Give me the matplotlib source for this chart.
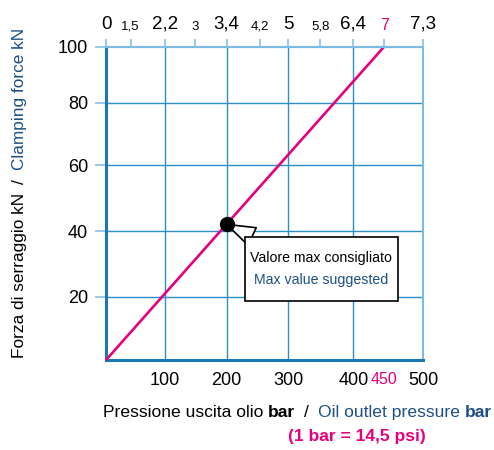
import numpy as np
import matplotlib
matplotlib.use("Agg")
import matplotlib.pyplot as plt
from matplotlib.offsetbox import TextArea, VPacker, AnnotationBbox, DrawingArea
from matplotlib.transforms import IdentityTransform

# clamping force vs oil outlet pressure
oil_pressure = [0, 450]      # bar
clamp_force = [0, 100]       # kN
max_suggested = (200, 42)    # bar, kN

bottom_ticks = [100, 200, 300, 400, 450, 500]
bottom_labels = ["100", "200", "300", "400", "450", "500"]
left_ticks = [20, 40, 60, 80, 100]
left_labels = ["20", "40", "60", "80", "100"]

# air pressure scale on top, placed at the matching oil pressure
air_labels = ["0", "1,5", "2,2", "3", "3,4", "4,2", "5", "5,8", "6,4", "7", "7,3"]
air_as_oil = [0, 42, 100, 149, 200, 254, 300, 349, 400, 450, 500]
air_big = ["0", "2,2", "3,4", "5", "6,4", "7,3"]

# the printed chart does not space its grid evenly
x_marks = [0, 100, 200, 300, 400, 450, 500]
x_spacing = [0, 58.7, 120.7, 182.3, 247.3, 278.3, 317.3]
y_marks = [0, 20, 40, 60, 80, 100]
y_spacing = [0, 63.3, 129, 195, 257.3, 313.5]

MAGENTA = "#e5007e"
NAVY = "#1d4f86"
GRID = "#2d8fc8"
AXIS = "#1a78b4"
LIGHT = "#7dbbe0"

plt.rcParams['font.family'] = ['Liberation Sans', 'DejaVu Sans']


def make_scale(vals, pos):
    vals = np.asarray(vals, float)
    pos = np.asarray(pos, float)
    s0 = (pos[1] - pos[0]) / (vals[1] - vals[0])
    s1 = (pos[-1] - pos[-2]) / (vals[-1] - vals[-2])

    def fwd(v):
        v = np.asarray(v, float)
        out = np.interp(v, vals, pos)
        out = np.where(v < vals[0], pos[0] + (v - vals[0]) * s0, out)
        out = np.where(v > vals[-1], pos[-1] + (v - vals[-1]) * s1, out)
        return out

    def inv(p):
        p = np.asarray(p, float)
        out = np.interp(p, pos, vals)
        out = np.where(p < pos[0], vals[0] + (p - pos[0]) / s0, out)
        out = np.where(p > pos[-1], vals[-1] + (p - pos[-1]) / s1, out)
        return out

    return fwd, inv


fig = plt.figure(figsize=(4.94, 4.5), dpi=100)
ax = fig.add_axes([106 / 494, 1 - 360 / 450, 317.3 / 494, 313.5 / 450])

ax.set_xscale('function', functions=make_scale(x_marks, x_spacing))
ax.set_yscale('function', functions=make_scale(y_marks, y_spacing))
ax.set_xlim(0, 500)
ax.set_ylim(0, 100)

ax.plot(oil_pressure, clamp_force, color=MAGENTA, lw=1.9, clip_on=False,
        solid_capstyle='butt', zorder=3)
ax.plot(*max_suggested, 'o', color='black', ms=10, zorder=6, clip_on=False)

ax.grid(True, color=GRID, lw=1.0)
ax.set_axisbelow(True)

ax.set_xticks(bottom_ticks, bottom_labels)
ax.tick_params(axis='x', direction='inout', length=7, width=1.3, color='none',
               pad=5, labelsize=13)
xt = ax.xaxis.get_major_ticks()
xt[4].tick1line.set_color(MAGENTA)
xt[4].label1.set_color(MAGENTA)
xt[4].label1.set_fontsize(11.5)
xt[4].gridline.set_visible(False)
xt[5].gridline.set_visible(False)

ax.set_yticks(left_ticks, left_labels)
ax.tick_params(axis='y', direction='out', length=8, width=1.1, color=LIGHT,
               pad=5, labelsize=13)
ax.yaxis.get_major_ticks()[4].gridline.set_visible(False)

for side in ['left', 'bottom']:
    ax.spines[side].set_color(AXIS)
    ax.spines[side].set_linewidth(2.2)
for side in ['top', 'right']:
    ax.spines[side].set_color(LIGHT)
    ax.spines[side].set_linewidth(1.5)

# top axis: air pressure
ax2 = ax.twiny()
ax2.set_xscale('function', functions=make_scale(x_marks, x_spacing))
ax2.set_xlim(0, 500)
ax2.set_xticks(air_as_oil, air_labels)
ax2.tick_params(axis='x', direction='out', length=6, width=1.1, color=LIGHT, pad=4)
for tk, lab in zip(ax2.xaxis.get_major_ticks(), air_labels):
    if lab in air_big:
        tk.label2.set_fontsize(13.5)
    elif lab == "7":
        tk.label2.set_fontsize(11.5)
        tk.label2.set_color(MAGENTA)
        tk.tick2line.set_color(MAGENTA)
        tk.tick2line.set_linewidth(1.5)
    else:
        tk.label2.set_fontsize(9.5)
for side in ['left', 'right', 'bottom']:
    ax2.spines[side].set_visible(False)
ax2.spines['top'].set_color(LIGHT)
ax2.spines['top'].set_linewidth(1.5)

# callout
box = VPacker(children=[
    DrawingArea(1, 0),
    TextArea("Valore max consigliato", textprops=dict(color='black', size=10.2)),
    TextArea("Max value suggested", textprops=dict(color=NAVY, size=10.2)),
    DrawingArea(1, 0),
], align='center', pad=1, sep=6)
ab = AnnotationBbox(box, max_suggested, xycoords='data',
                    xybox=(0.678, 0.29), boxcoords='axes fraction',
                    box_alignment=(0.5, 0.5), pad=0.3,
                    bboxprops=dict(boxstyle='square', fc='white', ec='black', lw=1.2),
                    arrowprops=dict(arrowstyle='wedge,tail_width=1.0', fc='white',
                                    ec='black', lw=1.2, shrinkA=0, shrinkB=0))
ab.set_zorder(5)
ax.add_artist(ab)


def text_row(pieces, x, y, rotation=0):
    r = fig.canvas.get_renderer()
    for s, color, weight, size, gap in pieces:
        t = fig.text(x, y, s, color=color, fontweight=weight, fontsize=size,
                     transform=IdentityTransform(), rotation=rotation,
                     rotation_mode='anchor', ha='left', va='baseline')
        bb = t.get_window_extent(r)
        if rotation:
            y += bb.height + gap
        else:
            x += bb.width + gap


text_row([
    ("Pressione uscita olio", 'black', 'normal', 12.6, 4),
    ("bar", 'black', 'bold', 12.6, 10),
    ("/", 'black', 'normal', 12.6, 9),
    ("Oil outlet pressure", NAVY, 'normal', 12.6, 4),
    ("bar", NAVY, 'bold', 12.6, 0),
], 103, 33)

text_row([
    ("Forza di serraggio kN", 'black', 'normal', 12.4, 9),
    ("/", 'black', 'normal', 12.4, 9),
    ("Clamping force kN", NAVY, 'normal', 12.4, 0),
], 24, 92, rotation=90)

fig.text(357, 9, "(1 bar = 14,5 psi)", color=MAGENTA, fontweight='bold', fontsize=12.5,
         transform=IdentityTransform(), ha='center', va='baseline')

fig.savefig("out.png", dpi=100)
